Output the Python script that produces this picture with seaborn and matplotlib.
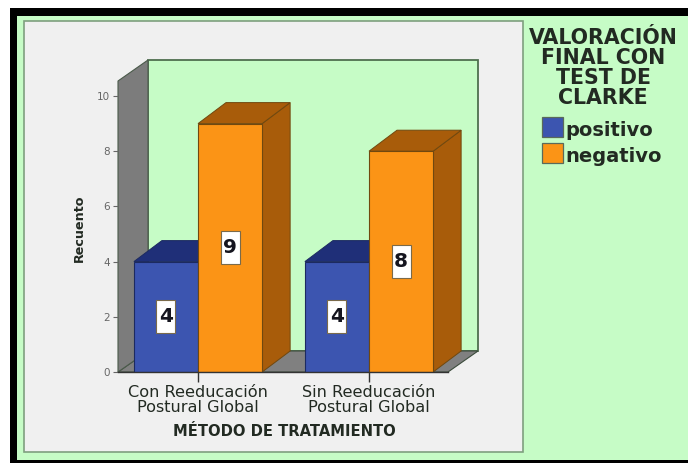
import matplotlib
matplotlib.use("Agg")
import matplotlib.pyplot as plt
from matplotlib.patches import Rectangle, Polygon
import pandas as pd
import seaborn as sns

categories = ["Con Reeducación\nPostural Global", "Sin Reeducación\nPostural Global"]
positivo = [4, 4]
negativo = [9, 8]
series_names = ["positivo", "negativo"]
y_ticks = [0, 2, 4, 6, 8, 10]
legend_title = "VALORACIÓN\nFINAL CON\nTEST DE\nCLARKE"
x_title = "MÉTODO DE TRATAMIENTO"
y_title = "Recuento"

W, H = 688, 463
GREEN = "#c6fcc6"; PANEL = "#f0f0f0"; EDGE = "#4f6f4f"; TEXT = "#222a22"
BLUE = "#3c55b0"; ORANGE = "#fb9416"
DARK = {BLUE: "#1f2f78", ORANGE: "#a85c0a"}
LINE = {BLUE: "#1c2a60", ORANGE: "#70480f"}
sns.set_theme(style="white")
plt.rcParams["font.family"] = ["DejaVu Sans"]

df = pd.DataFrame({
    "cat": categories * 2,
    "Recuento": positivo + negativo,
    "serie": [series_names[0]] * 2 + [series_names[1]] * 2,
})

fig = plt.figure(figsize=(W / 100, H / 100), dpi=100, facecolor="white")

# background, panel and walls, in pixel coordinates
bg = fig.add_axes([0, 0, 1, 1]); bg.set_xlim(0, W); bg.set_ylim(H, 0); bg.axis("off")
bg.add_patch(Rectangle((10, 8), W - 10, H - 8, fc="black", ec="none"))
bg.add_patch(Rectangle((17, 16), W - 17, 444, fc=GREEN, ec="none"))
bg.add_patch(Rectangle((24, 21), 499, 431, fc=PANEL, ec="#7f9f7f", lw=1.2))

X0, X1, Y0, YTOP = 118, 448, 372, 81
PX_PER_UNIT = 27.6
DX, DY = 30, 21
bg.add_patch(Polygon([(X0 + DX, YTOP - DY), (X1 + DX, YTOP - DY), (X1 + DX, Y0 - DY), (X0 + DX, Y0 - DY)],
                     fc=GREEN, ec=EDGE, lw=1.3))
bg.add_patch(Polygon([(X0, Y0), (X1, Y0), (X1 + DX, Y0 - DY), (X0 + DX, Y0 - DY)],
                     fc="#808080", ec="#3c4c3c", lw=0.8))
bg.add_patch(Polygon([(X0, Y0), (X0 + DX, Y0 - DY), (X0 + DX, YTOP - DY), (X0, YTOP)],
                     fc="#7c7c7c", ec="#4a5a4a", lw=0.8))

# data axes
ax = fig.add_axes([X0 / W, 1 - Y0 / H, (X1 - X0) / W, (Y0 - YTOP) / H])
ax.patch.set_alpha(0)
sns.barplot(data=df, x="cat", y="Recuento", hue="serie", palette=[BLUE, ORANGE],
            width=0.75, gap=0, saturation=1, legend=False, ax=ax, zorder=5,
            linewidth=0.8)
ax.set_xlim(-0.468, 1.462)
ax.set_ylim(0, (Y0 - YTOP) / PX_PER_UNIT)
ax.set_yticks(y_ticks)
ax.tick_params(axis="y", labelsize=7.5, labelcolor="#666666", length=3.6, width=0.8, color="#666666", pad=2, left=True)
ax.tick_params(axis="x", labelsize=11.6, labelcolor=TEXT, length=7, width=1, color="#333333", pad=2.5, bottom=True)
for l in ax.get_xticklabels():
    l.set_linespacing(1.0)
ax.set_xlabel("")
ax.set_ylabel("")
sns.despine(ax=ax, top=True, right=True)
ax.spines["left"].set_visible(False)
ax.spines["bottom"].set_color("#333333"); ax.spines["bottom"].set_linewidth(1); ax.spines["bottom"].set_zorder(6)

# pseudo-3D depth built from the drawn bars
xa, xb = ax.get_xlim()
dx_data = 28 * (xb - xa) / (X1 - X0)
dy_data = DY / PX_PER_UNIT
bars = [p for p in ax.patches if p.get_height() > 0]
for p, base in zip(bars, [BLUE, BLUE, ORANGE, ORANGE]):
    x0, x1, h = p.get_x(), p.get_x() + p.get_width(), p.get_height()
    p.set_edgecolor(LINE[base])
    z = 4 if base == ORANGE else 3
    ax.add_patch(Polygon([(x1, 0), (x1 + dx_data, dy_data), (x1 + dx_data, h + dy_data), (x1, h)],
                         fc=DARK[base], ec=LINE[base], lw=0.7, zorder=z, clip_on=False))
    ax.add_patch(Polygon([(x0, h), (x1, h), (x1 + dx_data, h + dy_data), (x0 + dx_data, h + dy_data)],
                         fc=DARK[base], ec=LINE[base], lw=0.7, zorder=z, clip_on=False))
    bw, bh = 19 * (xb - xa) / (X1 - X0), 33 / PX_PER_UNIT
    cx, cy = (x0 + x1) / 2, h / 2
    ax.add_patch(Rectangle((cx - bw / 2, cy - bh / 2), bw, bh, fc="white", ec="#7a6a4a", lw=0.8, zorder=7))
    ax.text(cx, cy, str(int(h)), ha="center", va="center", fontsize=14.5, fontweight="bold",
            color="#15151f", zorder=8)

fig.text(284 / W, 1 - 431 / H, x_title, ha="center", va="center", fontsize=10.6, fontweight="bold", color=TEXT)
fig.text(79 / W, 1 - 228 / H, y_title, rotation=90, ha="center", va="center", fontsize=9.2, fontweight="bold", color=TEXT)

for i, line in enumerate(legend_title.split("\n")):
    fig.text(603 / W, 1 - (38 + 20 * i) / H, line, ha="center", va="center", fontsize=14.8, fontweight="bold", color=TEXT)
for name, col, y in zip(series_names, [BLUE, ORANGE], [117, 143]):
    bg.add_patch(Rectangle((542, y), 21, 20, fc=col, ec="#5a6a5a", lw=0.9))
    fig.text(565 / W, 1 - (y + 14) / H, name, ha="left", va="center", fontsize=14, fontweight="bold", color=TEXT)

fig.savefig("out.png", dpi=100, facecolor="white")
